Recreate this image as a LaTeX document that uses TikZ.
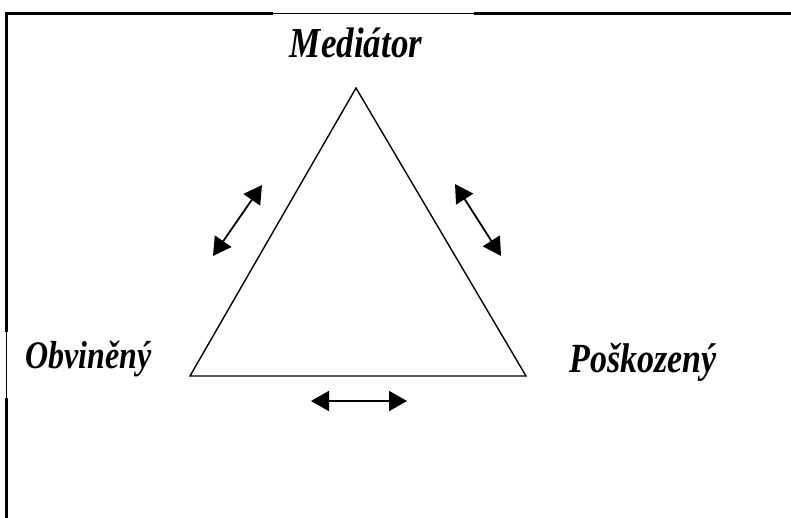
\documentclass[tikz,border=0pt]{standalone}
\usepackage{fontspec}
\setmainfont{Liberation Serif}
\usetikzlibrary{arrows.meta}
\newcommand{\tallbox}[1]{\scalebox{1}[1.22]{#1}}
\begin{document}
\begin{tikzpicture}[x=1pt,y=-1pt,
  lbl/.style={inner sep=0pt, anchor=base},
  rel/.style={line width=1.8pt, {Triangle[length=18pt,width=20pt]}-{Triangle[length=18pt,width=20pt]}},
  frame/.style={line width=2.2pt},
  thinframe/.style={line width=0.9pt},
  tri/.style={line width=1.4pt, line join=miter}]
\useasboundingbox (0,0) rectangle (791,518);
% frame
\coordinate (fl) at (6.5,518);
\coordinate (fl2) at (6.5,398);
\coordinate (fl1) at (6.5,332);
\coordinate (ftl) at (6.5,13.5);
\coordinate (fa) at (273,13.5);
\coordinate (fb) at (474,13.5);
\coordinate (fr) at (791,13.5);
\draw[frame] (fl) -- (fl2);
\draw[thinframe] (fl2) -- (fl1);
\draw[frame] (fl1) -- (ftl) -- (fa);
\draw[thinframe] (fa) -- (fb);
\draw[frame] (fb) -- (fr);
% triangle
\coordinate (A) at (356,88);
\coordinate (B) at (190,376);
\coordinate (C) at (526,376);
\draw[tri] (A) -- (B) -- (C) -- cycle;
% labels
\node[lbl, font=\fontsize{35}{40}\selectfont\bfseries\itshape] (med) at (356,58) {\tallbox{Mediátor}};
\node[lbl, font=\fontsize{32}{38}\selectfont\bfseries\itshape] (obv) at (88.5,368) {\tallbox{Obviněný}};
\node[lbl, font=\fontsize{34}{40}\selectfont\bfseries\itshape] (pos) at (643,372) {\tallbox{Poškozený}};
% arrows
\coordinate (l1) at (213,256);
\coordinate (l2) at (262,185);
\coordinate (r1) at (455,184);
\coordinate (r2) at (501,256);
\coordinate (b1) at (311,401);
\coordinate (b2) at (407,401);
\draw[rel] (l1) -- (l2);
\draw[rel] (r1) -- (r2);
\draw[rel] (b1) -- (b2);
\end{tikzpicture}
\end{document}
